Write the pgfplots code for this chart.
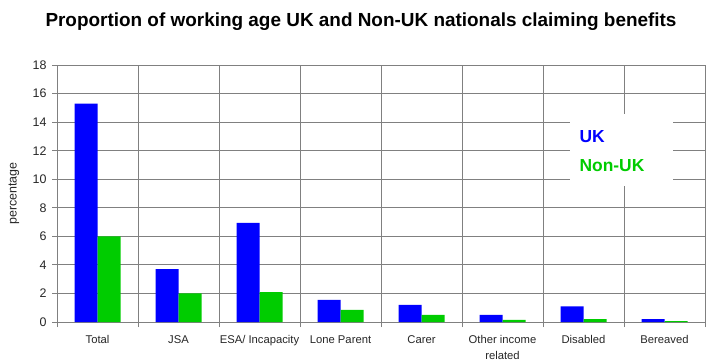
\documentclass[border=0pt]{standalone}
\usepackage{pgfplots}
\pgfplotsset{compat=1.18}
\usepackage{fontspec}
\setmainfont{Liberation Sans}
\definecolor{ukblue}{RGB}{0,0,255}
\definecolor{nongreen}{RGB}{0,204,0}
\definecolor{gridgrey}{RGB}{128,128,128}
\begin{document}
\begin{tikzpicture}
\useasboundingbox (-57bp,-42bp) rectangle (664bp,322bp);
\begin{axis}[
  at={(0,0)}, anchor=south west,
  scale only axis, width=648bp, height=257bp,
  ybar=0pt, bar width=23bp,
  xmin=-0.5, xmax=7.5, ymin=0, ymax=18,
  ytick={0,2,...,18},
  xtick={0,...,7},
  xticklabels={Total,JSA,ESA/ Incapacity,Lone Parent,Carer,{Other income\\related},Disabled,Bereaved},
  minor xtick={-0.5,0.5,...,7.5},
  major x tick style={draw=none},
  xticklabel style={font=\fontsize{11.3}{16}\selectfont, align=center, yshift=-5bp, color=black!85},
  yticklabel style={font=\fontsize{12.5}{14}\selectfont, color=black!85, xshift=-2bp},
  /pgf/number format/assume math mode=true,
  ymajorgrids, xminorgrids,
  grid style={gridgrey, line width=0.8pt},
  minor grid style={gridgrey, line width=0.8pt},
  axis line style={gridgrey, line width=0.8pt},
  tick style={gridgrey, line width=0.8pt},
  tick align=outside,
  major tick length=5bp, minor tick length=5bp,
  ytick pos=left, xtick pos=bottom,
  clip=false,
]
\addplot[fill=ukblue, draw=none] coordinates {(0,15.3) (1,3.7) (2,6.95) (3,1.55) (4,1.2) (5,0.5) (6,1.1) (7,0.2)};
\addplot[fill=nongreen, draw=none] coordinates {(0,6.0) (1,2.0) (2,2.1) (3,0.85) (4,0.5) (5,0.15) (6,0.2) (7,0.07)};
\node[fill=white, minimum width=103bp, minimum height=72bp, inner sep=0pt, anchor=north west] at (513bp,208bp) {};
\node[anchor=west, font=\bfseries\fontsize{17.5}{20}\selectfont, text=ukblue] at (519bp,185.5bp) {UK};
\node[anchor=west, font=\bfseries\fontsize{17.5}{20}\selectfont, text=nongreen] at (519bp,156.5bp) {Non-UK};
\end{axis}
\node[rotate=90, font=\fontsize{12.5}{14}\selectfont, color=black!85] at (-43bp,128.5bp) {percentage};
\node[font=\bfseries\fontsize{19}{22}\selectfont] at (304bp,300bp) {Proportion of working age UK and Non-UK nationals claiming benefits};
\end{tikzpicture}
\end{document}
